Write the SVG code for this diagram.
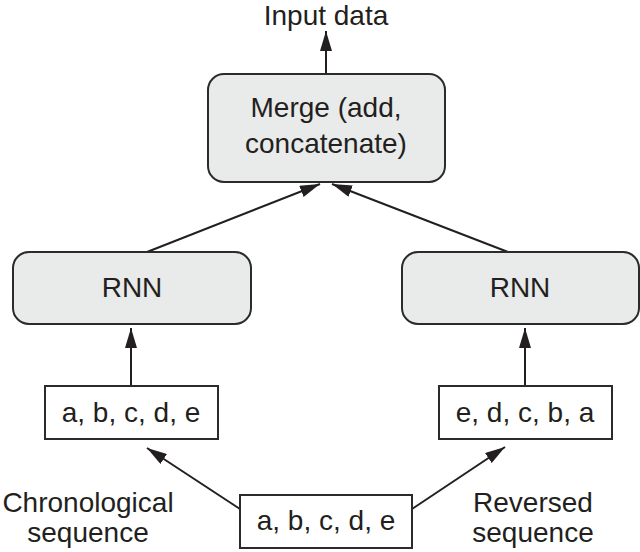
<svg xmlns="http://www.w3.org/2000/svg" width="640" height="552" viewBox="0 0 640 552">
<style>
text{font-family:"Liberation Sans",Arial,sans-serif;font-size:28px;fill:#231f20;text-anchor:middle}
.rnd{fill:#e9eaea;stroke:#2b2b2b;stroke-width:2}
.seq{fill:#fff;stroke:#2b2b2b;stroke-width:2}
.con line{stroke:#231f20;stroke-width:2;marker-end:url(#ah)}
</style>
<defs>
<marker id="ah" viewBox="0 0 20 12" refX="20" refY="6" markerWidth="20" markerHeight="12" markerUnits="userSpaceOnUse" orient="auto">
<path d="M0,0 L20,6 L0,12 Z" fill="#231f20"/>
</marker>
</defs>
<g class="con" id="connectors">
<line x1="326" y1="74" x2="326" y2="31"/>
<line x1="147" y1="252" x2="320" y2="184"/>
<line x1="508" y1="252" x2="332" y2="184"/>
<line x1="131" y1="386" x2="131" y2="328"/>
<line x1="525" y1="386" x2="525" y2="328"/>
<line x1="240" y1="509" x2="147" y2="448"/>
<line x1="412" y1="509" x2="505" y2="447"/>
</g>
<g id="output-label"><text x="326" y="25">Input data</text></g>
<g id="merge">
<rect class="rnd" x="208" y="74" width="237" height="108" rx="16"/>
<text x="326" y="117">Merge (add,</text>
<text x="326" y="153">concatenate)</text>
</g>
<g id="rnn-left">
<rect class="rnd" x="13" y="252" width="238" height="72" rx="16"/>
<text x="132" y="297">RNN</text>
</g>
<g id="rnn-right">
<rect class="rnd" x="402" y="252" width="237" height="72" rx="16"/>
<text x="520" y="297">RNN</text>
</g>
<g id="seq-left">
<rect class="seq" x="45" y="386" width="173" height="53"/>
<text x="131" y="422">a, b, c, d, e</text>
</g>
<g id="seq-right">
<rect class="seq" x="439" y="386" width="173" height="53"/>
<text x="525" y="422">e, d, c, b, a</text>
</g>
<g id="seq-input">
<rect class="seq" x="240" y="495" width="172" height="53"/>
<text x="326" y="530">a, b, c, d, e</text>
</g>
<g id="label-chrono">
<text x="88" y="512">Chronological</text>
<text x="88" y="542">sequence</text>
</g>
<g id="label-reversed">
<text x="533" y="512">Reversed</text>
<text x="533" y="542">sequence</text>
</g>
</svg>
